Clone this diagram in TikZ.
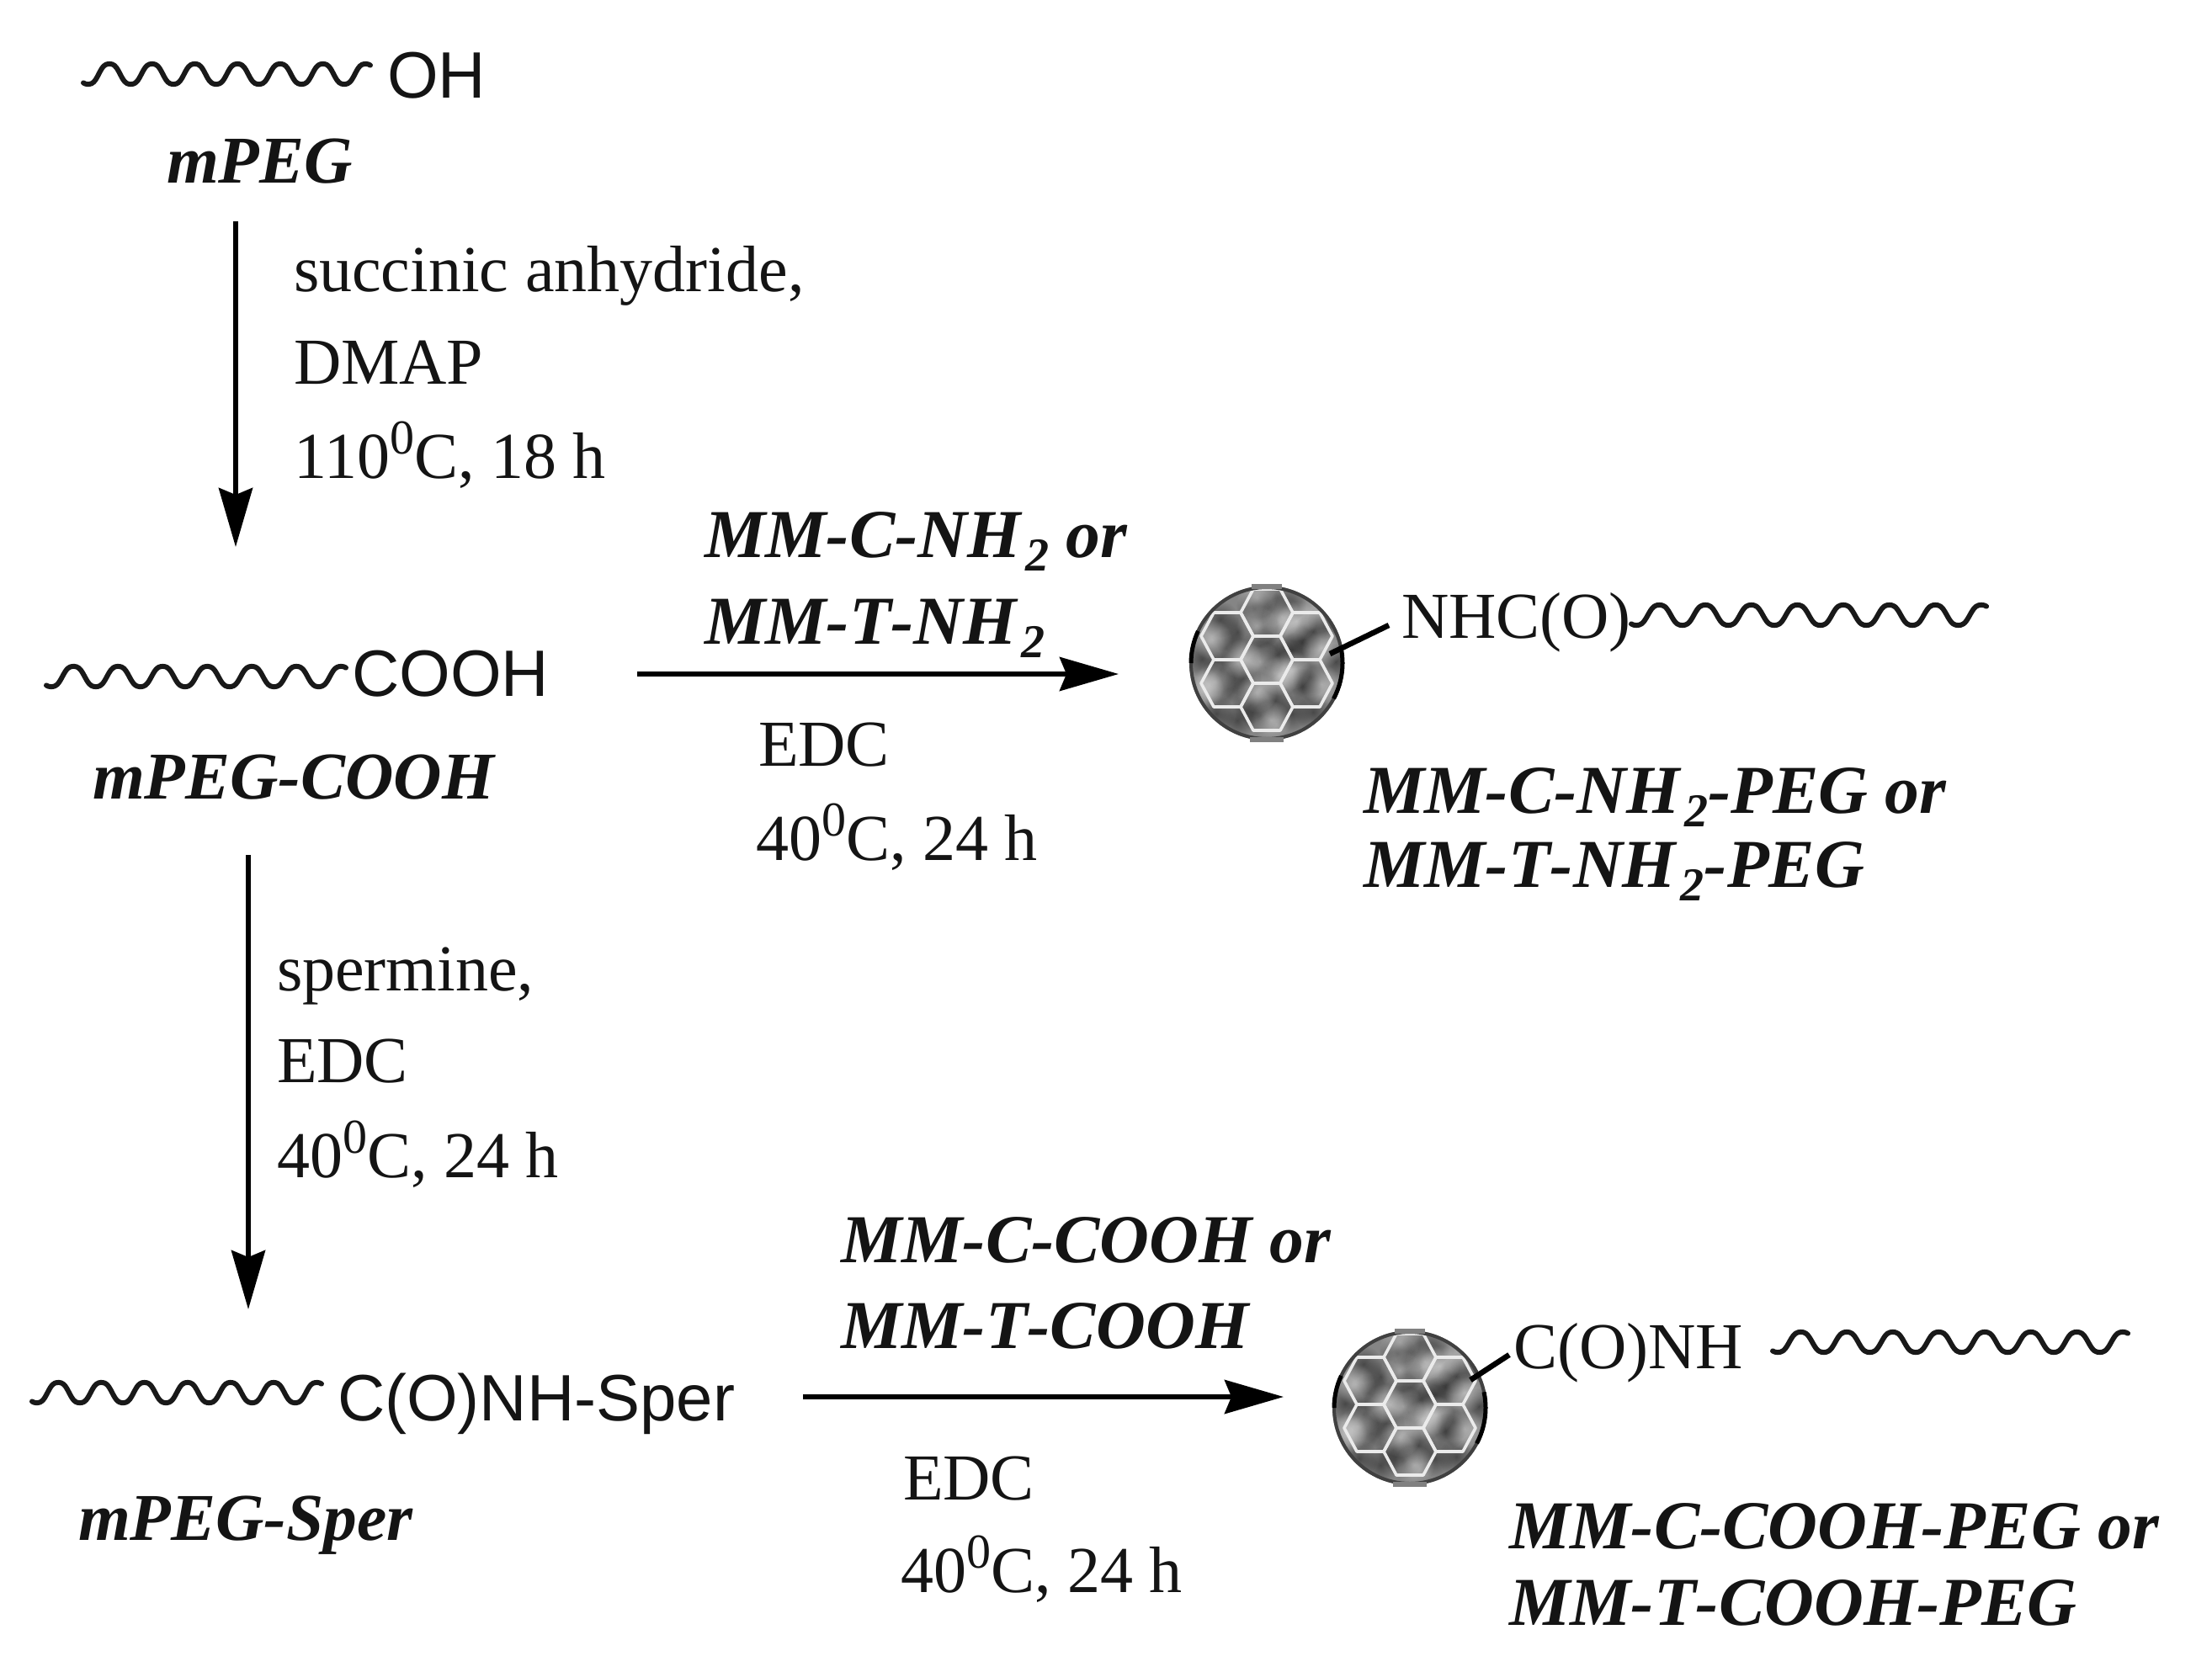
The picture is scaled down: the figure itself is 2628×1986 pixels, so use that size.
\documentclass[tikz,border=0pt]{standalone}
\usepackage{fontspec}
\setmainfont{Liberation Serif}
\newfontfamily\chemsans{Liberation Sans}
\newfontfamily\chembi[Kerning=Off]{Liberation Serif}
\usetikzlibrary{arrows.meta,fadings}
\tikzfading[name=softblob,inner color=transparent!0,outer color=transparent!100]
\newcommand\sups[1]{\raisebox{.36em}{\fontsize{58}{58}\selectfont #1}}
\newcommand\subt[1]{\kern.07em\raisebox{-.2em}{\fontsize{56}{56}\selectfont #1}}
\tikzset{
  x=1pt,y=-1pt,
  lbl/.style={anchor=base west,inner sep=0pt,outer sep=0pt,text=black!92},
  reagent/.style={lbl,font=\fontsize{78}{78}\selectfont},
  sanslbl/.style={lbl,font=\chemsans\fontsize{78}{78}\selectfont},
  bolditlbl/.style={lbl,font=\chembi\bfseries\itshape\fontsize{81.5}{81.5}\selectfont},
  mpeglbl/.style={lbl,font=\chembi\bfseries\itshape\fontsize{79.5}{79.5}\selectfont},
  rxn/.style={line width=6pt,draw=black,-{Stealth[length=70pt,width=40pt,inset=8pt]}},
  chain/.style={line width=6pt,draw=black!90,line cap=round,line join=round},
  bond/.style={line width=6.5pt,draw=black},
  ball/.style={circle,minimum size=184pt,inner sep=0pt,outer sep=0pt,fill=black!48},
}
% #1 x0, #2 x1, #3 y, #4 peaks
\newcommand\pegchain[4]{%
  \pgfmathsetmacro\thA{180+360*(#4-1)+40}%
  \pgfmathsetmacro\thL{\thA+40}%
  \draw[chain] plot[domain=-40:\thA,samples=140,smooth]
    ({#1+(\x+40)/\thL*(#2-#1)},{#3+13*(cos(\x)-0.07*cos(3*\x))});%
}
% #1 node name, #2 x, #3 y
\newcommand\bucky[3]{%
  \node[ball] (#1) at (#2,#3) {};%
  \begin{scope}[shift={(#1.center)}]
    \clip (0,0) circle (92);
    \foreach \bx/\by in {3/-67,-35/-37,-55/-52,-48/-18,12/-10,-2/5,55/-38,42/-25,-28/18,-47/30,-55/8,52/17,43/28,10/45,-8/62,-77/-5,-35/68,55/58,82/-2,-8/-20,-15/-65,25/-70,-5/-40,30/-15,-20/50,30/60,70/-50,-60/60}
      \fill[black,opacity=.45,path fading=softblob] (\bx,\by) circle (22);
    \foreach \bx/\by in {-12/-78,18/-55,-65/-28,-8/-2,-62/22,-12/35,28/8,65/25,65/-18,5/68,15/15,-12/-45,35/-50,-30/-5,-75/30,60/-60}
      \fill[white,opacity=.4,path fading=softblob] (\bx,\by) circle (24);
    \foreach \xc/\yc in {0/-60,0/-4,0/52,-47/-32,-47/24,47/-32,47/24}
      \draw[white!92!black,line width=3.6pt,line join=round,shift={(\xc,\yc)}]
        (-31,0) -- (-16,-28) -- (16,-28) -- (31,0) -- (16,28) -- (-16,28) -- cycle;
  \end{scope}
  \begin{scope}[shift={(#1.center)}]
    \draw[black!75,line width=4pt] (0,0) circle (90);
    \draw[black,line width=5pt] (-90,0) arc (180:205:90);
    \draw[black,line width=5pt] (90,0) arc (0:28:90);
    \draw[black,line width=5pt] (90,0) arc (0:-12:90);
    \fill[black!50] (-18,-94) rectangle (18,-88);
    \fill[black!50] (-20,88) rectangle (20,94);
  \end{scope}
}
\begin{document}
\begin{tikzpicture}
\useasboundingbox[fill=white] (0,0) rectangle (2628,1986);

% mPEG
\pegchain{99}{440}{88}{7}
\node[sanslbl] (oh) at (460,116) {OH};
\node[mpeglbl] (mpeg) at (198,217) {mPEG};
\coordinate (a1s) at (280,263);
\coordinate (a1e) at (280,650);
\draw[rxn] (a1s) -- (a1e);
\node[reagent] (r1a) at (349,346) {succinic anhydride,};
\node[reagent] (r1b) at (349,456) {DMAP};
\node[reagent] (r1c) at (349,568) {110\sups{0}C, 18 h};

% mPEG-COOH
\pegchain{55}{411}{804}{7}
\node[sanslbl] (cooh) at (418,827) {COOH};
\node[mpeglbl] (mpegcooh) at (110,949) {mPEG-COOH};

\coordinate (a2s) at (757,801);
\coordinate (a2e) at (1329,801);
\draw[rxn] (a2s) -- (a2e);
\node[bolditlbl] (r2a) at (837,662) {MM-C-NH\subt{2} or};
\node[bolditlbl] (r2b) at (837,765) {MM-T-NH\subt{2}};
\node[reagent] (r2c) at (901,910) {EDC};
\node[reagent] (r2d) at (898,1022) {40\sups{0}C, 24 h};

% product 1
\bucky{ball1}{1505}{788}
\coordinate (b1s) at (1580,777);
\coordinate (b1e) at (1650,743);
\draw[bond] (b1s) -- (b1e);
\node[reagent] (nhco) at (1665,758) {NHC(O)};
\pegchain{1938}{2360}{731}{8}
\node[bolditlbl] (p1a) at (1620,966) {MM-C-NH\subt{2}-PEG or};
\node[bolditlbl] (p1b) at (1620,1054) {MM-T-NH\subt{2}-PEG};

% spermine step
\coordinate (a3s) at (295,1016);
\coordinate (a3e) at (295,1556);
\draw[rxn] (a3s) -- (a3e);
\node[reagent] (r3a) at (329,1177) {spermine,};
\node[reagent] (r3b) at (329,1286) {EDC};
\node[reagent] (r3c) at (329,1399) {40\sups{0}C, 24 h};

% mPEG-Sper
\pegchain{38}{382}{1655}{7}
\node[sanslbl] (sper) at (401,1688) {C(O)NH-Sper};
\node[mpeglbl] (mpegsper) at (93,1830) {mPEG-Sper};

\coordinate (a4s) at (954,1660);
\coordinate (a4e) at (1525,1660);
\draw[rxn] (a4s) -- (a4e);
\node[bolditlbl] (r4a) at (999,1500) {MM-C-COOH or};
\node[bolditlbl] (r4b) at (999,1602) {MM-T-COOH};
\node[reagent] (r4c) at (1073,1782) {EDC};
\node[reagent] (r4d) at (1070,1892) {40\sups{0}C, 24 h};

% product 2
\bucky{ball2}{1675}{1673}
\coordinate (b2s) at (1747,1640);
\coordinate (b2e) at (1793,1610);
\draw[bond] (b2s) -- (b2e);
\node[reagent] (conh) at (1798,1626) {C(O)NH};
\pegchain{2106}{2528}{1595}{8}
\node[bolditlbl] (p2a) at (1793,1840) {MM-C-COOH-PEG or};
\node[bolditlbl] (p2b) at (1793,1931) {MM-T-COOH-PEG};
\end{tikzpicture}
\end{document}
